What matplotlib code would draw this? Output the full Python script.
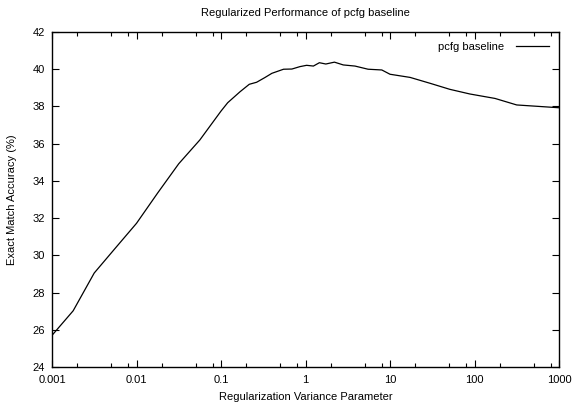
import numpy as np
import matplotlib
matplotlib.use('Agg')
import matplotlib.pyplot as plt
from matplotlib.ticker import LogLocator, FixedLocator, NullFormatter

plt.rcParams['font.family'] = ['Liberation Sans', 'DejaVu Sans']

# regularization variance vs exact match accuracy (%)
variance = [0.001, 0.00178, 0.00316, 0.0056, 0.01, 0.0178, 0.0316, 0.0562,
            0.1, 0.12, 0.168, 0.216, 0.264, 0.33, 0.4, 0.55, 0.69, 0.86,
            1.03, 1.24, 1.46, 1.74, 2.2, 2.8, 3.85, 5.5, 8.0, 10, 17.3,
            30, 51, 88, 175, 316, 1000]
accuracy = [25.7, 27.02, 29.05, 30.38, 31.72, 33.35, 34.92, 36.2,
            37.75, 38.2, 38.79, 39.19, 39.3, 39.55, 39.78, 40.0, 40.01, 40.14,
            40.21, 40.17, 40.35, 40.28, 40.38, 40.23, 40.17, 40.0, 39.96, 39.73, 39.56,
            39.24, 38.92, 38.67, 38.43, 38.08, 37.93]

x_ticks = [0.001, 0.01, 0.1, 1, 10, 100, 1000]
x_labels = ['0.001', '0.01', '0.1', '1', '10', '100', '1000']
y_ticks = list(range(24, 43, 2))

W, H = 574, 403
fig = plt.figure(figsize=(W / 100, H / 100), dpi=100)
ax = fig.add_axes([52 / W, (H - 367) / H, (559 - 52) / W, (367 - 32) / H])

ax.plot(variance, accuracy, color='black', lw=0.9, label='pcfg baseline')
ax.set_xscale('log')
ax.set_xlim(0.001, 1000)
ax.set_ylim(24, 42)

ax.xaxis.set_major_locator(FixedLocator(x_ticks))
ax.set_xticklabels(x_labels)
ax.xaxis.set_minor_locator(LogLocator(base=10, subs=(2, 5, 8)))
ax.xaxis.set_minor_formatter(NullFormatter())
ax.set_yticks(y_ticks)

ax.tick_params(which='both', direction='in', top=True, right=True,
               labelsize=8, width=0.8, color='black')
ax.tick_params(axis='x', pad=6)
ax.tick_params(axis='y', pad=5)
ax.tick_params(which='major', length=5)
ax.tick_params(which='minor', length=3)
for s in ax.spines.values():
    s.set_linewidth(1.0)

ax.set_xlabel('Regularization Variance Parameter', fontsize=8, labelpad=5)
ax.set_ylabel('Exact Match Accuracy (%)', fontsize=8, labelpad=11)
fig.text(305 / W, 1 - 13 / H, 'Regularized Performance of pcfg baseline',
         ha='center', va='center', fontsize=8)

ax.legend(loc='upper right', frameon=False, markerfirst=False, fontsize=8,
          handlelength=3.0, handletextpad=1.0, borderaxespad=0.5)

fig.savefig('out.png', dpi=100)
